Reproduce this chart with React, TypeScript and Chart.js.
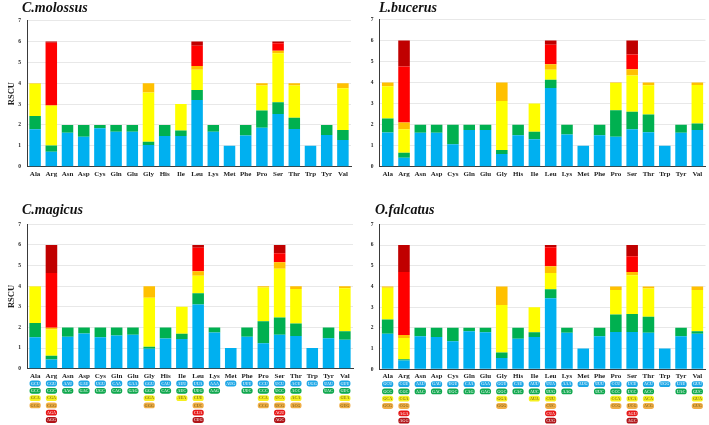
import React, { useEffect, useRef } from "react";
import { Chart, registerables } from "chart.js";
Chart.register(...registerables);

const aminoAcids = ["Ala", "Arg", "Asn", "Asp", "Cys", "Gln", "Glu", "Gly", "His", "Ile", "Leu", "Lys", "Met", "Phe", "Pro", "Ser", "Thr", "Trp", "Tyr", "Val"];

const codons = [
  ["GCU", "GCC", "GCA", "GCG"],
  ["CGU", "CGC", "CGA", "CGG", "AGA", "AGG"],
  ["AAU", "AAC"],
  ["GAU", "GAC"],
  ["UGU", "UGC"],
  ["CAA", "CAG"],
  ["GAA", "GAG"],
  ["GGU", "GGC", "GGA", "GGG"],
  ["CAU", "CAC"],
  ["AUU", "AUC", "AUA"],
  ["UUA", "UUG", "CUU", "CUC", "CUA", "CUG"],
  ["AAA", "AAG"],
  ["AUG"],
  ["UUU", "UUC"],
  ["CCU", "CCC", "CCA", "CCG"],
  ["UCU", "UCC", "UCA", "UCG", "AGU", "AGC"],
  ["ACU", "ACC", "ACA", "ACG"],
  ["UGG"],
  ["UAU", "UAC"],
  ["GUU", "GUC", "GUA", "GUG"],
];

// RSCU per amino acid, in codon order
const molossusRSCU = [
  [1.80, 0.63, 1.55, 0.02],
  [0.72, 0.29, 1.90, 0.03, 3.00, 0.06],
  [1.63, 0.37],
  [1.44, 0.56],
  [1.84, 0.16],
  [1.68, 0.32],
  [1.68, 0.32],
  [1.04, 0.16, 2.35, 0.45],
  [1.47, 0.53],
  [1.47, 0.26, 1.27],
  [3.20, 0.48, 0.96, 0.19, 0.96, 0.21],
  [1.68, 0.32],
  [1.00],
  [1.49, 0.51],
  [1.87, 0.82, 1.20, 0.11],
  [2.53, 0.56, 2.35, 0.11, 0.37, 0.08],
  [1.81, 0.54, 1.54, 0.11],
  [1.00],
  [1.52, 0.48],
  [1.28, 0.48, 2.00, 0.24],
];

const bucerusRSCU = [
  [1.63, 0.66, 1.53, 0.18],
  [0.43, 0.23, 1.12, 0.32, 2.67, 1.23],
  [1.61, 0.39],
  [1.61, 0.39],
  [1.07, 0.93],
  [1.74, 0.26],
  [1.74, 0.26],
  [0.60, 0.19, 2.34, 0.87],
  [1.50, 0.50],
  [1.31, 0.35, 1.34],
  [3.74, 0.40, 0.47, 0.26, 0.93, 0.20],
  [1.53, 0.47],
  [1.00],
  [1.50, 0.50],
  [1.42, 1.27, 1.29, 0.02],
  [1.78, 0.83, 1.73, 0.29, 0.71, 0.66],
  [1.64, 0.84, 1.39, 0.13],
  [1.00],
  [1.61, 0.39],
  [1.75, 0.30, 1.84, 0.11],
];

const magicusRSCU = [
  [1.53, 0.69, 1.76, 0.02],
  [0.45, 0.18, 1.27, 0.08, 2.66, 1.36],
  [1.55, 0.45],
  [1.71, 0.29],
  [1.52, 0.48],
  [1.61, 0.39],
  [1.65, 0.35],
  [0.97, 0.09, 2.38, 0.56],
  [1.47, 0.53],
  [1.44, 0.25, 1.31],
  [3.11, 0.55, 0.84, 0.23, 1.13, 0.14],
  [1.76, 0.24],
  [1.00],
  [1.55, 0.45],
  [1.23, 1.07, 1.64, 0.06],
  [1.65, 0.83, 2.36, 0.32, 0.44, 0.40],
  [1.58, 0.61, 1.67, 0.14],
  [1.00],
  [1.48, 0.52],
  [1.40, 0.41, 2.09, 0.10],
];

const falcatusRSCU = [
  [1.72, 0.68, 1.54, 0.06],
  [0.42, 0.07, 1.02, 0.14, 3.05, 1.30],
  [1.59, 0.41],
  [1.56, 0.44],
  [1.35, 0.65],
  [1.84, 0.16],
  [1.79, 0.21],
  [0.54, 0.27, 2.30, 0.89],
  [1.48, 0.52],
  [1.56, 0.23, 1.21],
  [3.43, 0.44, 0.78, 0.33, 0.91, 0.11],
  [1.76, 0.24],
  [1.00],
  [1.59, 0.41],
  [1.80, 0.85, 1.18, 0.17],
  [1.80, 0.87, 1.87, 0.16, 0.76, 0.54],
  [1.76, 0.78, 1.36, 0.10],
  [1.00],
  [1.59, 0.41],
  [1.72, 0.12, 1.99, 0.17],
];

const codonColors = ["#00B0F0", "#00B050", "#FFFF00", "#FFC000", "#FF0000", "#C00000"];
const boxColors = ["#1EA6E6", "#10A84E", "#F5F020", "#F0AE48", "#E81818", "#B01418"];

const SERIF = "'Liberation Serif', 'Times New Roman', serif";

type Area = { left: number; top: number; right: number; bottom: number };

function roundRect(ctx: CanvasRenderingContext2D, x: number, y: number, w: number, h: number, r: number) {
  ctx.beginPath();
  ctx.moveTo(x + r, y);
  ctx.lineTo(x + w - r, y);
  ctx.arcTo(x + w, y, x + w, y + r, r);
  ctx.lineTo(x + w, y + h - r);
  ctx.arcTo(x + w, y + h, x + w - r, y + h, r);
  ctx.lineTo(x + r, y + h);
  ctx.arcTo(x, y + h, x, y + h - r, r);
  ctx.lineTo(x, y + r);
  ctx.arcTo(x, y, x + r, y, r);
  ctx.closePath();
}

const codonPlugin = {
  id: "codonBoxes",
  afterDraw(chart: any) {
    const ctx: CanvasRenderingContext2D = chart.ctx;
    const xs = chart.scales.x;
    const bottom = chart.chartArea.bottom;
    ctx.save();
    codons.forEach((list, i) => {
      const x = xs.getPixelForValue(i);
      list.forEach((cod, k) => {
        const cy = bottom + 14.8 + k * 7.3;
        ctx.fillStyle = boxColors[k];
        roundRect(ctx, x - 5.6, cy - 2.9, 11.2, 5.8, 2.6);
        ctx.fill();
        ctx.fillStyle = k === 2 || k === 3 ? "rgba(120,95,20,0.85)" : "rgba(255,255,255,0.8)";
        ctx.font = `bold 4px ${SERIF}`;
        ctx.textAlign = "center";
        ctx.textBaseline = "middle";
        ctx.fillText(cod, x, cy + 0.3);
      });
    });
    ctx.restore();
  },
};

type PanelProps = {
  title: string;
  values: number[][];
  left: number;
  top: number;
  width: number;
  height: number;
  area: Area;
  showYTitle: boolean;
  showCodons: boolean;
  titleLeft: number;
  titleTop: number;
};

function Panel(p: PanelProps) {
  const ref = useRef<HTMLCanvasElement>(null);
  useEffect(() => {
    if (!ref.current) return;
    const datasets = codonColors.map((c, k) => ({
      label: `codon ${k + 1}`,
      data: p.values.map((v) => (v[k] !== undefined ? v[k] : 0)),
      backgroundColor: c,
      borderWidth: 0,
      barPercentage: 0.71,
      categoryPercentage: 1,
    }));
    const chart = new Chart(ref.current, {
      type: "bar",
      data: { labels: aminoAcids, datasets },
      options: {
        responsive: false,
        animation: false,
        layout: {
          padding: {
            top: p.area.top - p.top,
            right: p.left + p.width - p.area.right,
            left: 0,
            bottom: 0,
          },
        },
        plugins: {
          legend: { display: false },
          tooltip: { enabled: false },
          title: { display: false },
        },
        scales: {
          x: {
            stacked: true,
            grid: { display: false, drawTicks: false },
            border: { color: "#3a3a3a", width: 1 },
            ticks: {
              color: "#222",
              font: { family: SERIF, size: 7, weight: "bold" },
              padding: 3,
              maxRotation: 0,
              autoSkip: false,
            },
            afterFit: (s: any) => {
              s.height = p.top + p.height - p.area.bottom;
            },
          },
          y: {
            stacked: true,
            min: 0,
            max: 7,
            ticks: {
              stepSize: 1,
              color: "#222",
              font: { family: SERIF, size: 5.5, weight: "bold" },
              padding: 6,
            },
            grid: { color: "#e8e8e8", lineWidth: 1, drawTicks: false },
            border: { color: "#3a3a3a", width: 1 },
            title: {
              display: p.showYTitle,
              text: "RSCU",
              color: "#222",
              font: { family: SERIF, size: 8.5, weight: "bold" },
              padding: { top: 7, bottom: 0 },
            },
            afterFit: (s: any) => {
              s.width = p.area.left - p.left;
            },
          },
        },
      } as any,
      plugins: p.showCodons ? [codonPlugin] : [],
    });
    return () => chart.destroy();
  }, []);
  return (
    <>
      <canvas
        ref={ref}
        width={p.width}
        height={p.height}
        style={{ position: "absolute", left: p.left, top: p.top, width: p.width, height: p.height }}
      />
      <div
        style={{
          position: "absolute",
          left: p.titleLeft,
          top: p.titleTop,
          fontFamily: SERIF,
          fontStyle: "italic",
          fontWeight: "bold",
          fontSize: 14,
          lineHeight: "14px",
          color: "#111",
          whiteSpace: "nowrap",
        }}
      >
        {p.title}
      </div>
    </>
  );
}

export default function App() {
  return (
    <div style={{ position: "absolute", left: 0, top: 0, width: 709, height: 425, background: "#fff", overflow: "hidden" }}>
      <Panel
        title="C.molossus"
        values={molossusRSCU}
        left={0}
        top={0}
        width={356}
        height={200}
        area={{ left: 27, top: 20.6, right: 351, bottom: 166.7 }}
        showYTitle={true}
        showCodons={false}
        titleLeft={22}
        titleTop={0.6}
      />
      <Panel
        title="L.bucerus"
        values={bucerusRSCU}
        left={354}
        top={0}
        width={355}
        height={200}
        area={{ left: 379.6, top: 19.5, right: 705.5, bottom: 166.7 }}
        showYTitle={false}
        showCodons={false}
        titleLeft={379}
        titleTop={0.6}
      />
      <Panel
        title="C.magicus"
        values={magicusRSCU}
        left={0}
        top={215}
        width={356}
        height={210}
        area={{ left: 27, top: 221.5, right: 353, bottom: 368.7 }}
        showYTitle={true}
        showCodons={true}
        titleLeft={22}
        titleTop={203}
      />
      <Panel
        title="O.falcatus"
        values={falcatusRSCU}
        left={354}
        top={215}
        width={355}
        height={210}
        area={{ left: 379.5, top: 223.5, right: 705.5, bottom: 369.3 }}
        showYTitle={false}
        showCodons={true}
        titleLeft={375}
        titleTop={203}
      />
    </div>
  );
}
